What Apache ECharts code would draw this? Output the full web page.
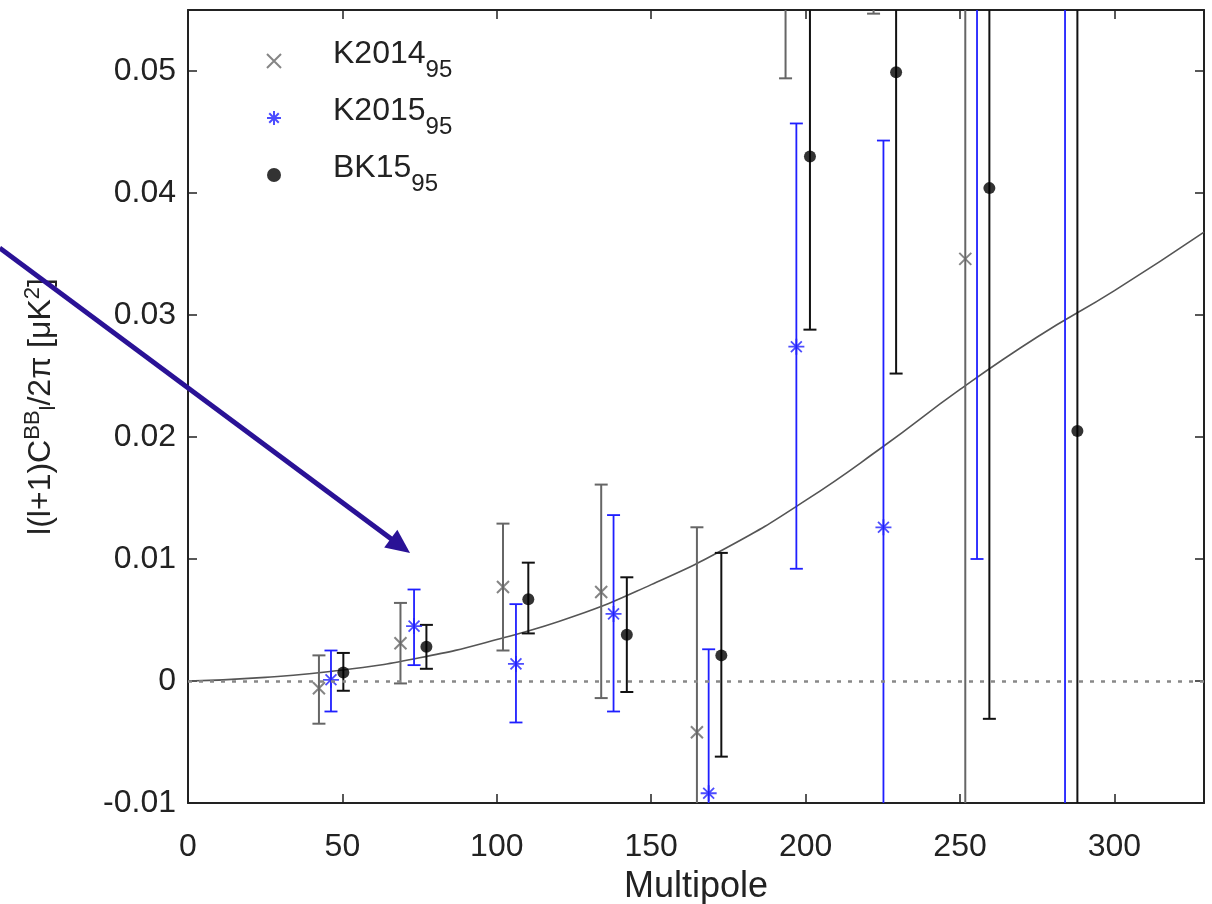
<!DOCTYPE html>
<html><head><meta charset="utf-8">
<script src="https://cdn.jsdelivr.net/npm/echarts@6/dist/echarts.min.js"></script>
<style>html,body{margin:0;padding:0;background:#fff}#c{width:1212px;height:904px}</style>
</head><body><div id="c"></div>
<script>
// ---- data ----
const seriesNames = ['K2014', 'K2015', 'BK15'];
const xTickStep = 50;
const yTickStep = 0.01;

const k14L  = [42.4, 68.8, 102.0, 133.8, 164.8, 193.5, 222.0, 251.7];
const k14V  = [-0.0006, 0.0031, 0.0077, 0.0073, -0.0042, 0.068, 0.070, 0.0346];
const k14Lo = [-0.0035, -0.0002, 0.0025, -0.0014, -0.021, 0.0494, 0.0547, -0.030];
const k14Hi = [0.0021, 0.0064, 0.0129, 0.0161, 0.0126, 0.090, 0.090, 0.100];

const k15L  = [46.3, 73.2, 106.2, 137.8, 168.6, 197.0, 225.2, 255.5, 284.0];
const k15V  = [0.0001, 0.0045, 0.0014, 0.0055, -0.0092, 0.0274, 0.0126, 0.068, 0.065];
const k15Lo = [-0.0025, 0.0013, -0.0034, -0.0025, -0.025, 0.0092, -0.020, 0.0100, -0.030];
const k15Hi = [0.0025, 0.0075, 0.0063, 0.0136, 0.0026, 0.0457, 0.0443, 0.130, 0.150];

const bk15L  = [50.3, 77.2, 110.2, 142.1, 172.7, 201.4, 229.3, 259.5, 288.0];
const bk15V  = [0.0007, 0.0028, 0.0067, 0.0038, 0.0021, 0.0430, 0.0499, 0.0404, 0.0205];
const bk15Lo = [-0.0008, 0.0010, 0.0039, -0.0009, -0.0062, 0.0288, 0.0252, -0.0031, -0.030];
const bk15Hi = [0.0023, 0.0046, 0.0097, 0.0085, 0.0105, 0.065, 0.080, 0.085, 0.100];

const theoryL = [0, 25, 50, 75, 100, 125, 150, 175, 200, 225, 250, 275, 300, 329];
const theoryV = [0, 0.0003, 0.0009, 0.0019, 0.0034, 0.0053, 0.0079, 0.0110, 0.0148, 0.0192, 0.0239, 0.0282, 0.0320, 0.0368];

const arrowFrom = [-61, 0.0355];
const arrowTo   = [71.9, 0.0105];

// ---- chart ----
const FONT = 'Liberation Sans, Arial, sans-serif';
const pts = (L, V) => L.map((l, i) => [l, V[i]]);
const bars = (L, Lo, Hi) => L.map((l, i) => [l, Lo[i], Hi[i]]);

function errRender(color, width, cap) {
  return function (params, api) {
    const x = api.value(0), lo = api.value(1), hi = api.value(2);
    const p1 = api.coord([x, lo]), p2 = api.coord([x, hi]);
    const style = { stroke: color, lineWidth: width, fill: null };
    return { type: 'group', children: [
      { type: 'line', shape: { x1: p1[0], y1: p1[1], x2: p2[0], y2: p2[1] }, style: style },
      { type: 'line', shape: { x1: p1[0] - cap, y1: p1[1], x2: p1[0] + cap, y2: p1[1] }, style: style },
      { type: 'line', shape: { x1: p2[0] - cap, y1: p2[1], x2: p2[0] + cap, y2: p2[1] }, style: style }
    ]};
  };
}

function arrowRender(params, api) {
  const a = api.coord([api.value(0), api.value(1)]);
  const b = api.coord([api.value(2), api.value(3)]);
  const dx = b[0] - a[0], dy = b[1] - a[1];
  const len = Math.sqrt(dx * dx + dy * dy);
  const ux = dx / len, uy = dy / len;
  const hl = 24, hw = 11;
  const bx = b[0] - ux * hl, by = b[1] - uy * hl;
  const col = '#2a1296';
  return { type: 'group', children: [
    { type: 'line', shape: { x1: a[0], y1: a[1], x2: bx + ux * 2, y2: by + uy * 2 }, style: { stroke: col, lineWidth: 5 } },
    { type: 'polygon', shape: { points: [[b[0], b[1]], [bx - uy * hw, by + ux * hw], [bx + uy * hw, by - ux * hw]] }, style: { fill: col } }
  ]};
}

const xPath = 'path://M0,0L10,10M10,0L0,10';
const starPath = 'path://M0,5L10,5M5,0L5,10M1.6,1.6L8.4,8.4M8.4,1.6L1.6,8.4';

const axisCommon = {
  axisLine: { show: true, onZero: false, lineStyle: { color: '#222', width: 2 } },
  axisTick: { show: true, inside: true, length: 9, lineStyle: { color: '#222', width: 1.5 } },
  splitLine: { show: false }
};

const option = {
  animation: false,
  backgroundColor: '#fff',
  grid: { left: 188, right: 8, top: 10, bottom: 101, containLabel: false, outerBoundsMode: 'none' },
  legend: {
    data: seriesNames,
    orient: 'vertical', left: 261, top: 33,
    itemWidth: 108, itemHeight: 14, itemGap: 11,
    symbolKeepAspect: true,
    selectedMode: false,
    formatter: n => '{a|' + n + '}{b|95}',
    textStyle: {
      color: '#222', fontFamily: FONT,
      rich: {
        a: { fontSize: 32, lineHeight: 32, padding: [0, 0, 14, 0], fontFamily: FONT, color: '#222' },
        b: { fontSize: 24, lineHeight: 24, padding: [18, 0, 0, 0], fontFamily: FONT, color: '#222' }
      }
    }
  },
  xAxis: [
    Object.assign({}, axisCommon, {
      type: 'value', min: 0, max: 329, interval: xTickStep, position: 'bottom',
      name: 'Multipole', nameLocation: 'middle', nameGap: 66,
      nameTextStyle: { fontFamily: FONT, fontSize: 36, color: '#222' },
      axisLabel: { show: true, margin: 28, fontFamily: FONT, fontSize: 32, color: '#222', showMaxLabel: false }
    }),
    Object.assign({}, axisCommon, {
      type: 'value', min: 0, max: 329, interval: xTickStep, position: 'top',
      axisLabel: { show: false }
    })
  ],
  yAxis: [
    Object.assign({}, axisCommon, {
      type: 'value', min: -0.01, max: 0.055, interval: yTickStep, position: 'left',
      name: '{a|l(l+1)C}{sup|BB}{sub|l}{a|/2π [μK}{sup|2}{a|]}',
      nameLocation: 'middle', nameRotate: 90, nameGap: 128,
      nameTextStyle: {
        fontFamily: FONT, color: '#222',
        rich: {
          a: { fontSize: 32, fontFamily: FONT, color: '#222' },
          sup: { fontSize: 22, fontFamily: FONT, color: '#222', padding: [0, 0, 16, 0] },
          sub: { fontSize: 22, fontFamily: FONT, color: '#222', padding: [16, 0, 0, 0] }
        }
      },
      axisLabel: { show: true, margin: 12, fontFamily: FONT, fontSize: 32, color: '#222', showMaxLabel: false }
    }),
    Object.assign({}, axisCommon, {
      type: 'value', min: -0.01, max: 0.055, interval: yTickStep, position: 'right',
      axisLabel: { show: false }
    })
  ],
  series: [
    {
      name: 'theory', type: 'line', data: pts(theoryL, theoryV),
      showSymbol: false, smooth: 0.5, silent: true,
      lineStyle: { color: '#555', width: 1.6 }, z: 2,
      markLine: {
        silent: true, symbol: 'none', label: { show: false },
        lineStyle: { color: '#888', type: [4, 7], width: 2.5 },
        data: [{ yAxis: 0 }]
      }
    },
    { name: 'K2014 err', type: 'custom', clip: true, renderItem: errRender('#666', 2, 6.5), data: bars(k14L, k14Lo, k14Hi), encode: { x: 0, y: [1, 2] }, z: 3, silent: true },
    { name: 'K2015 err', type: 'custom', clip: true, renderItem: errRender('#1f1fff', 1.8, 6.5), data: bars(k15L, k15Lo, k15Hi), encode: { x: 0, y: [1, 2] }, z: 3, silent: true },
    { name: 'BK15 err', type: 'custom', clip: true, renderItem: errRender('#111', 2, 6.5), data: bars(bk15L, bk15Lo, bk15Hi), encode: { x: 0, y: [1, 2] }, z: 3, silent: true },
    { name: 'K2014', type: 'scatter', clip: true, data: pts(k14L, k14V), symbol: xPath, symbolSize: 12,
      itemStyle: { color: 'transparent', borderColor: '#666', borderWidth: 2 }, z: 4 },
    { name: 'K2015', type: 'scatter', clip: true, data: pts(k15L, k15V), symbol: starPath, symbolSize: 16,
      itemStyle: { color: 'transparent', borderColor: '#1f1fff', borderWidth: 1.8 }, z: 4 },
    { name: 'BK15', type: 'scatter', clip: true, data: pts(bk15L, bk15V), symbol: 'circle', symbolSize: 12,
      itemStyle: { color: '#000' }, z: 4 },
    { name: 'arrow', type: 'custom', clip: false, renderItem: arrowRender,
      data: [[arrowFrom[0], arrowFrom[1], arrowTo[0], arrowTo[1]]], encode: { x: [0, 2], y: [1, 3] }, z: 10, silent: true }
  ]
};

const chart = echarts.init(document.getElementById('c'), null, { renderer: 'canvas' });
chart.setOption(option);
</script>
</body></html>
